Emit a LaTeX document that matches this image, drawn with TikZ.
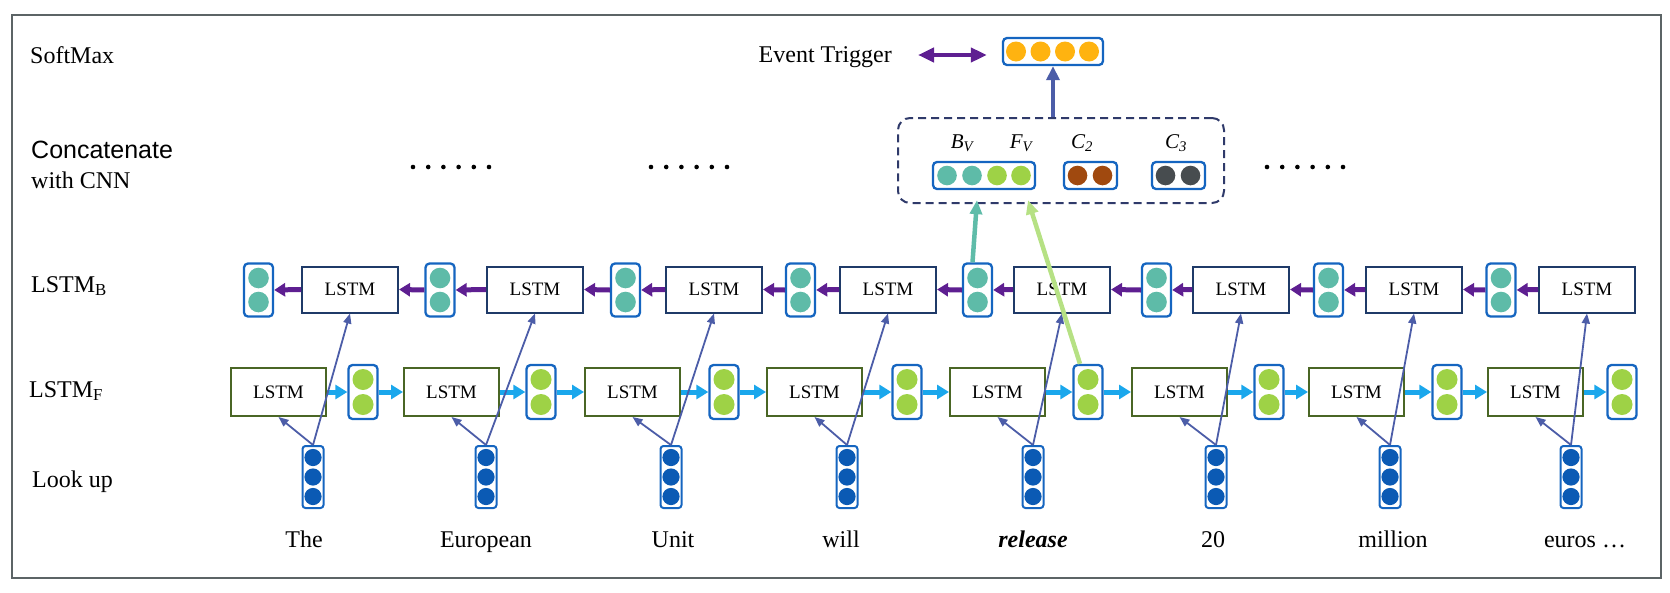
\documentclass[tikz,border=0pt]{standalone}
\usepackage{fontspec}
\setmainfont{Liberation Serif}
\newfontfamily\arialf{Liberation Sans}
\usetikzlibrary{arrows.meta,calc}
\definecolor{framec}{HTML}{5C6466}
\definecolor{navyc}{HTML}{1F3A68}
\definecolor{olivec}{HTML}{4A6625}
\definecolor{vecc}{HTML}{1565C0}
\definecolor{tealc}{HTML}{5EBBA8}
\definecolor{greenc}{HTML}{9ED246}
\definecolor{lookc}{HTML}{0B5AB4}
\definecolor{orangec}{HTML}{FFB310}
\definecolor{brownc}{HTML}{A0490F}
\definecolor{grayc}{HTML}{474C4F}
\definecolor{purpc}{HTML}{5E1F91}
\definecolor{cyanc}{HTML}{1AA7EC}
\definecolor{thinc}{HTML}{4C5DA8}
\definecolor{tealarr}{HTML}{5FBCA9}
\definecolor{greenarr}{HTML}{B6E184}
\definecolor{dashc}{HTML}{2F3A6A}
\begin{document}
\begin{tikzpicture}[x=1pt,y=-1pt,
  lstmb/.style={draw=navyc, line width=2, fill=white, minimum width=96, minimum height=46, inner sep=0, font=\fontsize{19}{19}\selectfont},
  lstmf/.style={draw=olivec, line width=2, fill=white, minimum width=95, minimum height=48, inner sep=0, font=\fontsize{19}{19}\selectfont},
  vecbox/.style={draw=vecc, line width=2.3, fill=white, rounded corners=4, inner sep=0},
  lbl/.style={anchor=base west, inner sep=0, font=\fontsize{24}{24}\selectfont},
  word/.style={anchor=base, inner sep=0, font=\fontsize{24}{24}\selectfont},
  cyanarrow/.style={cyanc, line width=5, -{Triangle[width=14pt,length=12pt]}},
  purparrow/.style={purpc, line width=5, -{Triangle[width=13pt,length=11pt]}},
  thinarrow/.style={thinc, line width=1.8, -{Triangle[width=8pt,length=10pt]}},
  vlab/.style={anchor=base, inner sep=0, font=\fontsize{21}{21}\selectfont\itshape}
]
\useasboundingbox (0,0) rectangle (1670,592);
\draw[framec, line width=2] (12,15) rectangle (1661,578);

% row labels
\node[lbl] (softmax) at (30,63) {SoftMax};
\node[lbl, font=\fontsize{25}{25}\selectfont\arialf] (concat) at (31,158) {Concatenate};
\node[lbl] (withcnn) at (31,188) {with CNN};
\node[lbl] (lstmblab) at (31,292) {LSTM\textsubscript{B}};
\node[lbl] (lstmflab) at (29,397) {LSTM\textsubscript{F}};
\node[lbl] (lookup) at (32,487) {Look up};

% columns
\foreach \i/\fx/\gx/\bx/\tx/\lx/\wx/\wtext in {
  1/278.5/363/350/258.5/313/304/The,
  2/451.5/541/535/440/486/486/European,
  3/632.5/724/714/625.5/671/673/Unit,
  4/814.5/907/888/800.5/847/841/will,
  5/997.5/1088/1062/977.5/1033/1033/{\textbf{\textit{release}}},
  6/1179.5/1269/1241/1156.5/1216/1213/20,
  7/1356.5/1447/1414/1328.5/1390/1393/million,
  8/1535.5/1622/1587/1501/1571/1585/{euros …}}{
  \node[lstmf] (F\i) at (\fx,392) {LSTM};
  \node[vecbox, minimum width=29, minimum height=54] (G\i) at (\gx,392) {};
  \fill[greenc] ([yshift=-12.5]G\i.center) circle (10.5);
  \fill[greenc] ([yshift=12.5]G\i.center) circle (10.5);
  \node[lstmb] (B\i) at (\bx,289.5) {LSTM};
  \node[vecbox, minimum width=29, minimum height=53] (T\i) at (\tx,290) {};
  \fill[tealc] ([yshift=-12]T\i.center) circle (10.3);
  \fill[tealc] ([yshift=12]T\i.center) circle (10.3);
  \node[vecbox, line width=2, rounded corners=3, minimum width=21, minimum height=62] (L\i) at (\lx,477) {};
  \fill[lookc] ([yshift=-19.5]L\i.center) circle (8.6);
  \fill[lookc] (L\i.center) circle (8.6);
  \fill[lookc] ([yshift=19.5]L\i.center) circle (8.6);
  \node[word] (W\i) at (\wx,547) {\wtext};
}

% forward and backward chains
\foreach \i in {1,...,8}{
  \draw[cyanarrow] (F\i.east) -- (G\i.west);
  \draw[purparrow] (B\i.west) -- (T\i.east);
}
\foreach \i/\j in {1/2,2/3,3/4,4/5,5/6,6/7,7/8}{
  \draw[cyanarrow] (G\i.east) -- (F\j.west);
  \draw[purparrow] (T\j.west) -- (B\i.east);
}
% lookup arrows
\foreach \i in {1,...,8}{
  \draw[thinarrow] (L\i.north) -- (F\i.south);
  \draw[thinarrow] (L\i.north) -- (B\i.south);
}

% dots
\foreach \sx in {413,651,1267}{
  \foreach \k in {0,...,5}{
    \fill[black] (\sx+15.2*\k,167) circle (2.3);
  }
}

% concatenation box
\node[draw=dashc, line width=2, dash pattern=on 8pt off 5pt, rounded corners=12, minimum width=326, minimum height=85, inner sep=0] (cat) at (1061,160.5) {};
\node[vecbox, minimum width=102, minimum height=27] (bf) at (984,175.5) {};
\fill[tealc] ($(bf.center)+(-37,0)$) circle (9.8);
\fill[tealc] ($(bf.center)+(-12,0)$) circle (9.8);
\fill[greenc] ($(bf.center)+(13,0)$) circle (9.8);
\fill[greenc] ($(bf.center)+(37,0)$) circle (9.8);
\node[vecbox, minimum width=53, minimum height=27] (c2) at (1090.5,175.5) {};
\fill[brownc] ($(c2.center)+(-13,0)$) circle (9.8);
\fill[brownc] ($(c2.center)+(12,0)$) circle (9.8);
\node[vecbox, minimum width=53, minimum height=27] (c3) at (1178.5,175.5) {};
\fill[grayc] ($(c3.center)+(-13,0)$) circle (9.8);
\fill[grayc] ($(c3.center)+(12,0)$) circle (9.8);
\node[vlab] (bv) at (962,148) {B\textsubscript{V}};
\node[vlab] (fv) at (1021,148) {F\textsubscript{V}};
\node[vlab] (c2l) at (1082,148) {C\textsubscript{2}};
\node[vlab] (c3l) at (1176,148) {C\textsubscript{3}};

% arrows into concatenation
\coordinate (tipB) at ($(bf.south)+(-7,10)$);
\coordinate (tipF) at ($(bf.south)+(44,10)$);
\draw[tealarr, line width=4.5, -{Triangle[width=12pt,length=14pt]}] ([xshift=-5]T5.north) -- (tipB);
\draw[greenarr, line width=4.5, -{Triangle[width=12pt,length=14pt]}] ([xshift=-8]G5.north) -- (tipF);

% softmax output
\node[vecbox, minimum width=100, minimum height=27] (out) at (1053,51.5) {};
\foreach \dx in {-37,-12.5,12,36}{
  \fill[orangec] ($(out.center)+(\dx,0)$) circle (10);
}
\draw[thinc, line width=4, -{Triangle[width=13pt,length=14pt]}] (out.south |- cat.north) -- (out.south);
\node[anchor=base east, inner sep=0, font=\fontsize{24}{24}\selectfont] (et) at (892,62) {Event Trigger};
\coordinate (etr) at (892,55);
\draw[purpc, line width=4, {Triangle[width=14pt,length=16pt]}-{Triangle[width=14pt,length=16pt]}, shorten <=26, shorten >=15] (etr) -- (etr -| out.west);
\end{tikzpicture}
\end{document}
